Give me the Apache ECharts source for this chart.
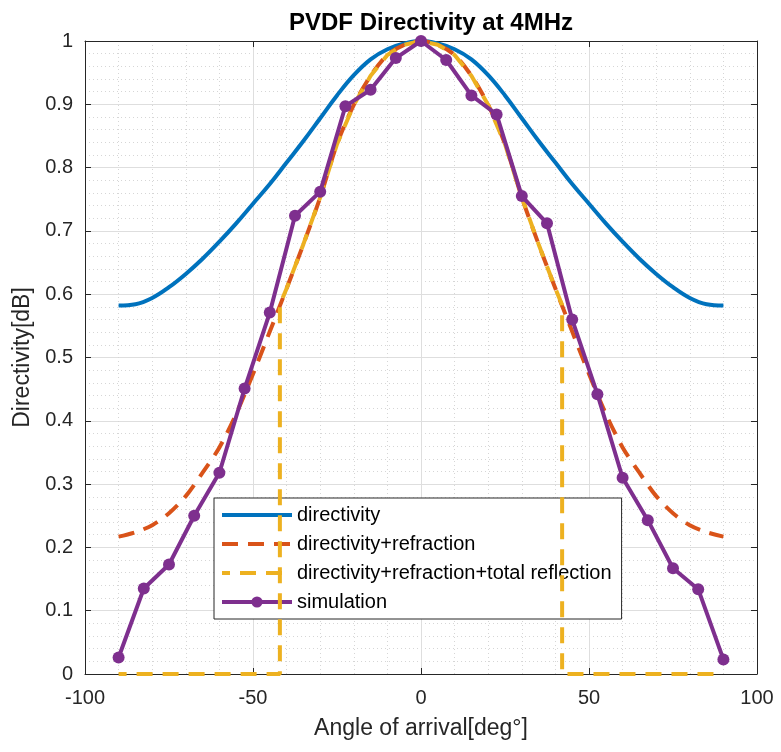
<!DOCTYPE html>
<html>
<head>
<meta charset="utf-8">
<script src="https://cdn.jsdelivr.net/npm/echarts@6/dist/echarts.min.js"></script>
<style>
  html, body { margin: 0; padding: 0; background: #fff; }
  #chart { width: 781px; height: 752px; }
</style>
</head>
<body>
<div id="chart"></div>
<script>
// blue curve, read every 5 deg
const directivityAngles = [
  -90, -85, -80, -75, -70, -65, -60, -55, -50, -45, -40, -35, -30, -25, -20, -15, -10, -5,
  0, 5, 10, 15, 20, 25, 30, 35, 40, 45, 50, 55, 60, 65, 70, 75, 80, 85, 90,
]
const directivityValues = [
  0.582, 0.584, 0.594, 0.611, 0.632, 0.656, 0.683, 0.712, 0.743, 0.774, 0.808, 0.842, 0.878, 0.914, 0.946, 0.971, 0.987, 0.996,
  1.0, 0.996, 0.987, 0.971, 0.946, 0.914, 0.878, 0.842, 0.808, 0.774, 0.743, 0.712, 0.683, 0.656, 0.632, 0.611, 0.594, 0.584, 0.582,
]

// orange dashed
const refractionAngles = directivityAngles
const refractionValues = [
  0.217, 0.224, 0.235, 0.254, 0.281, 0.318, 0.358, 0.411, 0.474, 0.541, 0.609, 0.679, 0.753, 0.837, 0.899, 0.945, 0.978, 0.994,
  1.0, 0.994, 0.978, 0.945, 0.899, 0.837, 0.753, 0.679, 0.609, 0.541, 0.474, 0.411, 0.358, 0.318, 0.281, 0.254, 0.235, 0.224, 0.217,
]

// yellow dashed, drops to 0 past the critical angle
const reflectionAngles = [
  -90, -42, -42, -40, -35, -30, -25, -20, -15, -10, -5,
  0, 5, 10, 15, 20, 25, 30, 35, 40, 42, 42, 90,
]
const reflectionValues = [
  0, 0, 0.583, 0.609, 0.679, 0.753, 0.837, 0.899, 0.945, 0.978, 0.994,
  1.0, 0.994, 0.978, 0.945, 0.899, 0.837, 0.753, 0.679, 0.609, 0.583, 0, 0,
]

// purple markers
const simulationAngles = [
  -90, -82.5, -75, -67.5, -60, -52.5, -45, -37.5, -30, -22.5, -15, -7.5,
  0, 7.5, 15, 22.5, 30, 37.5, 45, 52.5, 60, 67.5, 75, 82.5, 90,
]
const simulationValues = [
  0.026, 0.135, 0.173, 0.25, 0.318, 0.451, 0.571, 0.724, 0.762, 0.897, 0.923, 0.973,
  1.0, 0.97, 0.914, 0.884, 0.755, 0.712, 0.56, 0.442, 0.31, 0.243, 0.167, 0.134, 0.023,
]

const seriesNames = [
  'directivity',
  'directivity+refraction',
  'directivity+refraction+total reflection',
  'simulation',
]

const zip = (xs, ys) => xs.map((x, i) => [x, ys[i]])

const font = 'Liberation Sans, Arial, sans-serif'
const axisColor = '#262626'

const gridLines = {
  splitLine: { show: true, lineStyle: { color: '#dedede', width: 1 } },
  minorSplitLine: { show: true, lineStyle: { color: '#d6d6d6', width: 1, type: [1, 3] } },
}

const myChart = echarts.init(document.getElementById('chart'), null, {
  width: 781,
  height: 752,
})

// plain line icons in the legend, only simulation keeps its marker
const legendData = seriesNames.map((name, i) =>
  i < 3 ? { name: name, itemStyle: { opacity: 0 } } : { name: name }
)

const option = {
  backgroundColor: '#fff',
  animation: false,
  title: {
    text: 'PVDF Directivity at 4MHz',
    left: 426,
    top: 6,
    textAlign: 'center',
    textStyle: { fontFamily: font, fontSize: 24, fontWeight: 'bold', color: '#000' },
  },
  grid: { left: 85, right: 24, top: 41, bottom: 78 },
  legend: {
    data: legendData,
    orient: 'vertical',
    left: 214,
    top: 498,
    padding: [7, 10, 7, 6],
    itemWidth: 70,
    itemHeight: 14,
    itemGap: 9,
    backgroundColor: '#fff',
    borderColor: '#262626',
    borderWidth: 1,
    lineStyle: { width: 4 },
    textStyle: { fontFamily: font, fontSize: 20, color: '#000' },
  },
  xAxis: [
    {
      type: 'value',
      min: -100,
      max: 100,
      interval: 50,
      position: 'bottom',
      name: 'Angle of arrival[deg°]',
      nameLocation: 'middle',
      nameGap: 43,
      nameTextStyle: { fontFamily: font, fontSize: 23, color: axisColor },
      axisLine: { show: true, onZero: false, lineStyle: { color: axisColor, width: 1 } },
      axisTick: { show: true, inside: true, length: 6, lineStyle: { color: axisColor } },
      axisLabel: { fontFamily: font, fontSize: 20, color: axisColor, margin: 14 },
      minorTick: { show: false, splitNumber: 5 },
      ...gridLines,
    },
    {
      type: 'value',
      min: -100,
      max: 100,
      interval: 50,
      position: 'top',
      axisLine: { show: true, onZero: false, lineStyle: { color: axisColor, width: 1 } },
      axisTick: { show: true, inside: true, length: 6, lineStyle: { color: axisColor } },
      axisLabel: { show: false },
      splitLine: { show: false },
    },
  ],
  yAxis: [
    {
      type: 'value',
      min: 0,
      max: 1,
      interval: 0.1,
      position: 'left',
      name: 'Directivity[dB]',
      nameLocation: 'middle',
      nameGap: 51,
      nameTextStyle: { fontFamily: font, fontSize: 23, color: axisColor },
      axisLine: { show: true, onZero: false, lineStyle: { color: axisColor, width: 1 } },
      axisTick: { show: true, inside: true, length: 6, lineStyle: { color: axisColor } },
      axisLabel: { fontFamily: font, fontSize: 20, color: axisColor, margin: 12 },
      minorTick: { show: false, splitNumber: 5 },
      ...gridLines,
    },
    {
      type: 'value',
      min: 0,
      max: 1,
      interval: 0.1,
      position: 'right',
      axisLine: { show: true, onZero: false, lineStyle: { color: axisColor, width: 1 } },
      axisTick: { show: true, inside: true, length: 6, lineStyle: { color: axisColor } },
      axisLabel: { show: false },
      splitLine: { show: false },
    },
  ],
  series: [
    {
      name: seriesNames[0],
      type: 'line',
      data: zip(directivityAngles, directivityValues),
      symbol: 'none',
      smooth: 0.4,
      lineStyle: { color: '#0072BD', width: 4 },
      itemStyle: { color: '#0072BD' },
      z: 2,
    },
    {
      name: seriesNames[1],
      type: 'line',
      data: zip(refractionAngles, refractionValues),
      symbol: 'none',
      smooth: 0.3,
      lineStyle: { color: '#D95319', width: 4, type: [16, 10] },
      itemStyle: { color: '#D95319' },
      z: 3,
    },
    {
      name: seriesNames[2],
      type: 'line',
      data: zip(reflectionAngles, reflectionValues),
      symbol: 'none',
      lineStyle: { color: '#EDB120', width: 4, type: [16, 10], dashOffset: 8 },
      itemStyle: { color: '#EDB120' },
      z: 4,
    },
    {
      name: seriesNames[3],
      type: 'line',
      data: zip(simulationAngles, simulationValues),
      symbol: 'circle',
      symbolSize: 12,
      lineStyle: { color: '#7E2F8E', width: 4 },
      itemStyle: { color: '#7E2F8E' },
      z: 5,
    },
  ],
}

option && myChart.setOption(option)
</script>
</body>
</html>
